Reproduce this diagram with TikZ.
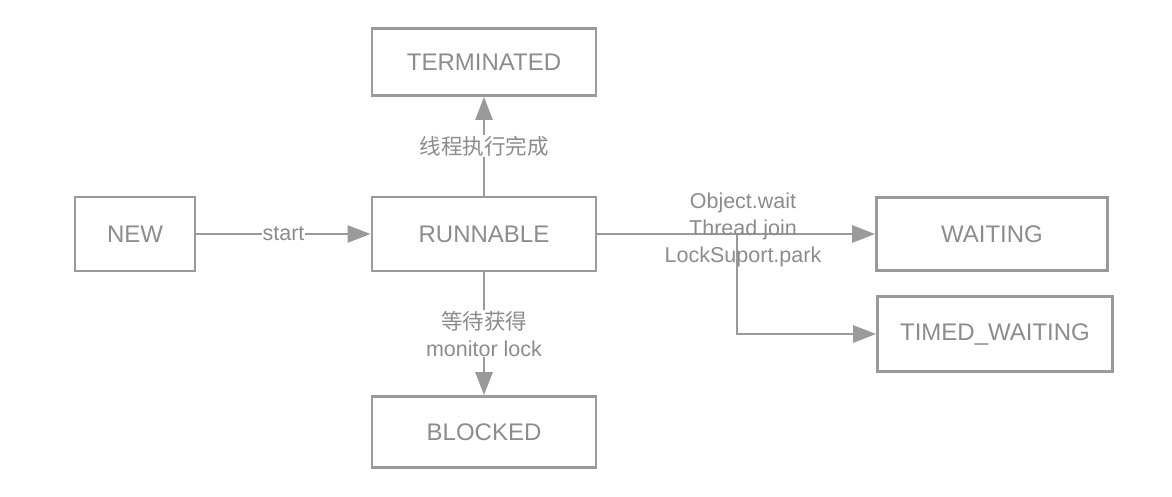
\documentclass[tikz,border=0pt]{standalone}
\usepackage{fontspec}
\setmainfont{Liberation Sans}
\newfontfamily\cjk{Noto Sans CJK SC}
\usetikzlibrary{arrows.meta}
\definecolor{linegray}{HTML}{9A9A9A}
\definecolor{textgray}{HTML}{8C8C8C}
\tikzset{
	state/.style={draw=linegray, line width=2.8pt, text=textgray, inner sep=0pt, font=\fontsize{24}{28}\selectfont},
	arr/.style={draw=linegray, line width=2.8pt, -{Triangle[length=23pt,width=17pt]}},
	lbl/.style={text=textgray, inner sep=1pt, font=\fontsize{21.5}{27}\selectfont, align=center}
}

\begin{document}
\begin{tikzpicture}[x=1pt, y=-1pt]
			%%%%% START %%%%%
			\useasboundingbox (0, 0) rectangle (1172, 496);
			
			\node[state, minimum width=120, minimum height=74] (new) at (135, 234) {NEW};
			\node[state, minimum width=224, minimum height=74] (runnable) at (484, 234) {RUNNABLE};
			\node[state, minimum width=224, minimum height=67] (terminated) at (484, 62) {TERMINATED};
			\node[state, minimum width=224, minimum height=71] (blocked) at (484, 432) {BLOCKED};
			\node[state, minimum width=231, minimum height=73] (waiting) at (992, 234) {WAITING};
			\node[state, minimum width=235, minimum height=75] (timed) at (995, 334) {TIMED\_WAITING};
			
			\draw[arr] (new) -- node[lbl, fill=white] {start} (runnable);
			\draw[arr] (runnable) -- node[lbl, fill=white] {\cjk 线程执行完成} (terminated);
			\draw[arr] (runnable) -- node[lbl, fill=white] {{\cjk 等待获得}\\monitor lock} (blocked);
			
			\draw[arr] (runnable) -- (waiting);
			\coordinate (split) at (737, 234);
			\draw[arr] (split) |- (timed);
			\node[lbl] (waitlbl) at (743, 230) {Object.wait\\Thread join\\LockSuport.park};
			
			%%%%% END %%%%%
\end{tikzpicture}
\end{document}
